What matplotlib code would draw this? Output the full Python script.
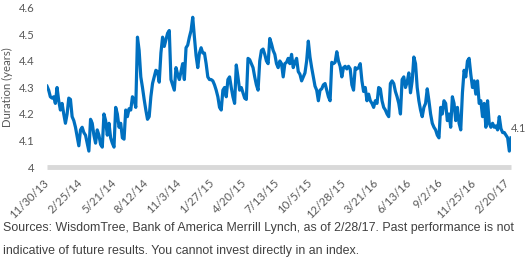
import matplotlib
matplotlib.use("Agg")
import matplotlib.pyplot as plt
import pandas as pd

# Duration (years), sampled roughly every few business days, 11/30/13 - 2/28/17
dur_2014 = [4.305, 4.29, 4.265, 4.26, 4.265, 4.24, 4.30, 4.25, 4.215, 4.24, 4.20, 4.165,
            4.20, 4.26, 4.255, 4.19, 4.175, 4.15, 4.115, 4.08, 4.14, 4.15, 4.13, 4.12,
            4.09, 4.06, 4.18, 4.165, 4.12, 4.09, 4.14, 4.12, 4.085, 4.075, 4.20, 4.175,
            4.12, 4.165, 4.11, 4.09, 4.075, 4.225, 4.20, 4.15, 4.165, 4.11, 4.105, 4.215,
            4.19, 4.22, 4.215, 4.265, 4.255, 4.225, 4.49, 4.44, 4.34, 4.30, 4.255, 4.215,
            4.18, 4.19, 4.265, 4.315, 4.34, 4.365, 4.36, 4.32, 4.43, 4.49, 4.455]
dur_2015 = [4.48, 4.505, 4.515, 4.33, 4.31, 4.29, 4.375, 4.35, 4.33, 4.36, 4.39, 4.33,
            4.45, 4.46, 4.49, 4.515, 4.565, 4.49, 4.42, 4.375, 4.43, 4.45, 4.43, 4.43,
            4.39, 4.34, 4.33, 4.33, 4.325, 4.31, 4.29, 4.265, 4.225, 4.215, 4.29, 4.30,
            4.265, 4.33, 4.34, 4.30, 4.265, 4.24, 4.385, 4.34, 4.29, 4.30, 4.28, 4.26,
            4.255, 4.41, 4.405, 4.39, 4.375, 4.34, 4.31, 4.29, 4.40, 4.44, 4.445, 4.425,
            4.40, 4.39, 4.485, 4.465, 4.44, 4.425, 4.39, 4.375, 4.40, 4.39, 4.34, 4.39,
            4.395, 4.41, 4.39, 4.425, 4.375, 4.395, 4.41, 4.36, 4.35, 4.325, 4.34, 4.355,
            4.40, 4.475, 4.415, 4.375, 4.34, 4.305, 4.29, 4.25, 4.29, 4.295, 4.31, 4.315,
            4.29, 4.265, 4.25, 4.395, 4.39, 4.395, 4.435]
dur_2016 = [4.40, 4.38, 4.34, 4.375, 4.38, 4.37, 4.38, 4.37, 4.31, 4.29, 4.375, 4.37,
            4.375, 4.39, 4.325, 4.285, 4.30, 4.25, 4.275, 4.25, 4.24, 4.225, 4.25, 4.24,
            4.30, 4.295, 4.25, 4.225, 4.215, 4.20, 4.19, 4.315, 4.325, 4.315, 4.285, 4.265,
            4.24, 4.20, 4.33, 4.34, 4.30, 4.32, 4.355, 4.28, 4.325, 4.415, 4.39, 4.30,
            4.25, 4.215, 4.19, 4.225, 4.24, 4.295, 4.25, 4.20, 4.165, 4.15, 4.14, 4.12,
            4.11, 4.225, 4.20, 4.25, 4.24, 4.175, 4.20, 4.15, 4.265, 4.24, 4.175, 4.225,
            4.165, 4.14, 4.28, 4.365, 4.34, 4.40, 4.41, 4.35, 4.30, 4.325, 4.275, 4.325,
            4.24, 4.25, 4.19, 4.24, 4.15, 4.25, 4.165, 4.15, 4.165, 4.15, 4.155, 4.14,
            4.19, 4.145, 4.13, 4.13, 4.12, 4.11, 4.06, 4.11]

values = dur_2014 + dur_2015 + dur_2016
start_date = "2013-11-30"
end_date = "2017-02-28"
dates = pd.date_range(start_date, end_date, periods=len(values))

tick_labels = ["11/30/13", "2/25/14", "5/21/14", "8/12/14", "11/3/14", "1/27/15",
               "4/20/15", "7/13/15", "10/5/15", "12/28/15", "3/21/16", "6/13/16",
               "9/2/16", "11/25/16", "2/20/17"]
y_ticks = [4.0, 4.1, 4.2, 4.3, 4.4, 4.5, 4.6]
y_tick_labels = ["4", "4.1", "4.2", "4.3", "4.4", "4.5", "4.6"]
last_label = "4.1"
footer_lines = ["Sources: WisdomTree, Bank of America Merrill Lynch, as of 2/28/17. Past performance is not",
                "indicative of future results. You cannot invest directly in an index."]

chart_font = "Lato"
text_color = "#595959"

fig = plt.figure(figsize=(5.29, 2.68), dpi=100)
ax = fig.add_axes([47/529, 1-167/268, (511-47)/529, (167-8)/268])

ax.plot(dates, values, color="#0070C0", linewidth=2.3, solid_joinstyle="round")
ax.set_xlim(dates[0], dates[-1])
ax.set_ylim(4.0, 4.6)

ax.set_yticks(y_ticks)
ax.set_yticklabels(y_tick_labels, fontsize=8.2, color=text_color, family=chart_font)
tick_dates = pd.to_datetime(tick_labels, format="%m/%d/%y")
ax.set_xticks(tick_dates)
ax.set_xticklabels(tick_labels, rotation=45, ha="right", va="center",
                   rotation_mode="anchor", fontsize=8.2, color=text_color, family=chart_font)
ax.tick_params(axis="both", length=0)
ax.tick_params(axis="y", pad=9)
ax.tick_params(axis="x", pad=10)

for s in ["top", "right", "left"]:
    ax.spines[s].set_visible(False)
ax.spines["bottom"].set_color("#D9D9D9")
ax.spines["bottom"].set_linewidth(3.5)
ax.spines["bottom"].set_capstyle("butt")

ax.set_ylabel("Duration (years)", fontsize=8.2, color=text_color, family=chart_font, labelpad=4)

ax.annotate(last_label, xy=(dates[-1], values[-1]), xytext=(0, 7), textcoords="offset points",
            ha="left", va="center", fontsize=7.8, color=text_color, family=chart_font,
            annotation_clip=False)

fig.text(3/529, 1-228/268, footer_lines[0], ha="left", va="center", fontsize=8.9,
         color="#404040", family="Liberation Sans")
fig.text(3/529, 1-251/268, footer_lines[1], ha="left", va="center", fontsize=8.9,
         color="#404040", family="Liberation Sans")

fig.savefig("out.png", dpi=100)
